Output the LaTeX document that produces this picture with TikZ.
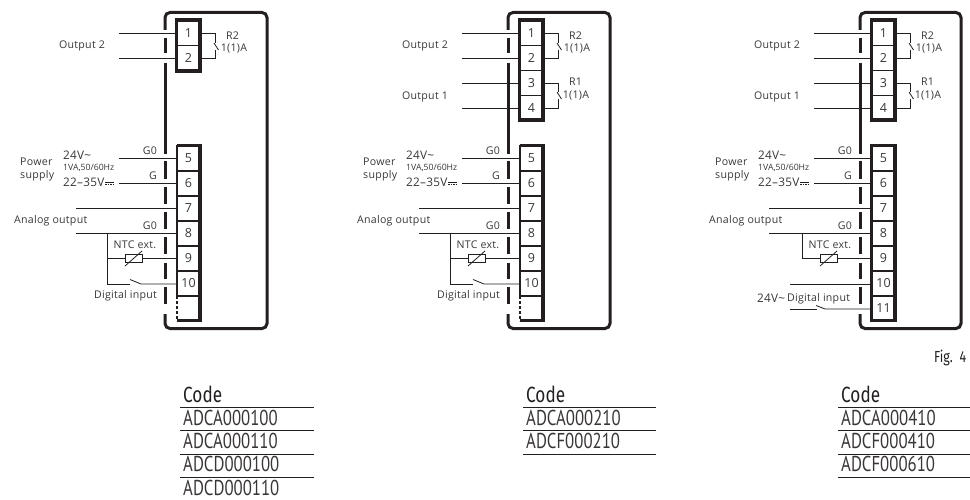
\documentclass[tikz,border=0pt]{standalone}
\usepackage{fontspec}
\setmainfont{Open Sans}
\newfontfamily\condfont[FakeStretch=0.78]{PT Sans}
\newfontfamily\condbold[FakeStretch=0.78]{Fira Sans}
\definecolor{ink}{HTML}{231F20}
\definecolor{txt}{HTML}{3A3637}
\tikzset{
  x=1pt,y=-1pt,
  lbl/.style={inner sep=0pt,text=txt,font=\fontsize{10.6}{12}\selectfont\addfontfeatures{LetterSpace=2.5}},
  lbls/.style={inner sep=0pt,text=txt,font=\fontsize{8.7}{10}\selectfont},
  lblb/.style={inner sep=0pt,text=txt,font=\fontsize{11.8}{13}\selectfont\addfontfeatures{LetterSpace=2}},
  term/.style={draw=ink,line width=1.4pt,minimum width=23pt,minimum height=25pt,inner sep=0pt,outer sep=0pt,text=txt,font=\fontsize{12.5}{14}\selectfont},
  frame/.style={draw=ink,line width=3.2pt},
  wire/.style={draw=ink,line width=.8pt},
  case/.style={draw=ink,line width=3pt},
  coderow/.style={inner sep=0pt,anchor=base west,text=txt,font=\condfont\fontsize{21.5}{23}\selectfont},
  codehead/.style={inner sep=0pt,anchor=base west,text=ink,font=\condbold\fontsize{22}{24}\selectfont},
  rulel/.style={draw=ink,line width=1pt},
}
\newcommand\casebox[1]{%
  \draw[case,rounded corners=5pt] (165,30) -- (165,12.5) -- (#1,12.5) -- (#1,328.5) -- (165,328.5) -- (165,314);
  \draw[case] (165,38) -- (165,53);
  \draw[case] (165,63) -- (165,154);
  \foreach \a/\b in {161/179,187/204,212/229,237/254,263/279,287/304}{\draw[case] (165,\a) -- (165,\b);}
}
\newcommand\lowerpart{%
  \node[term] (t5) at (188.5,158.5) {5};
  \node[term] (t6) at (188.5,183.5) {6};
  \node[term] (t7) at (188.5,208.5) {7};
  \node[term] (t8) at (188.5,233.5) {8};
  \node[term] (t9) at (188.5,258.5) {9};
  \node[term] (t10) at (188.5,283.5) {10};
  \coordinate (w5) at (119,158);
  \coordinate (w6) at (119,183);
  \draw[wire] (w5) -- (t5.west |- w5);
  \draw[wire] (w6) -- (t6.west |- w6);
  \node[lblb,anchor=west] (l24) at (63,155) {24V\char"007E};
  \node[lbls,anchor=west] (lva) at (63,168) {1VA,50/60Hz};
  \node[lblb,anchor=west] (l22) at (63,182.5) {22–35V};
  \draw[ink,line width=.6pt] (105,182) -- (114,182);
  \draw[ink,line width=.6pt,dash pattern=on 1.5pt off 1pt] (105,184) -- (114,184);
  \node[lbl,anchor=west] (lpw) at (20,161.5) {Power};
  \node[lbl,anchor=west] (lsu) at (20,176) {supply};
  \node[lbl] (g0a) at (150,151) {G0};
  \node[lbl] (ga) at (153,175.5) {G};
  \node[lbl] (g0b) at (150,226) {G0};
  \node[lbl,anchor=west] (lana) at (14,220.5) {Analog output};
  \node[lbl] (lntc) at (135,245) {NTC ext.};
}
\newcommand\ntc{%
  \node[draw=ink,line width=.8pt,minimum width=17pt,minimum height=8pt,inner sep=0pt] (ntc) at (133.5,258.5) {};
  \coordinate (j8) at (107,233);
  \coordinate (j9) at (107,258.5);
  \draw[wire] (j9) -- (ntc.west);
  \draw[wire] (ntc.east) -- (t9.west |- ntc.east);
  \draw[wire] (125,266) -- (142,251);
}
\newcommand\lastopen{%
  \draw[draw=ink,line width=1.4pt] (177,296) -- (200,296);
  \draw[draw=ink,line width=1.4pt,dash pattern=on 2.5pt off 2.5pt] (177,296) -- (177,321);
  \draw[frame] (176.5,145.5) -- (200,145.5) -- (200,320.5) -- (176.5,320.5);
  \draw[draw=ink,line width=1.4pt] (177,145.5) -- (177,296);
}
\newcommand\digitalten{%
  \coordinate (j10) at (107,284);
  \coordinate (c10) at (130,284);
  \coordinate (e10) at (130,279.5);
  \coordinate (d10) at (141,284);
  \draw[wire] (j8) -- (j10) -- (c10);
  \draw[wire] (e10) -- (d10) -- (t10.west |- d10);
  \node[lbl] (ldi) at (125.5,295.5) {Digital input};
}
\newcommand\topone{%
  \node[term] (t1) at (188.5,33) {1};
  \node[term] (t2) at (188.5,58) {2};
  \coordinate (w1) at (119,33.5);
  \coordinate (w2) at (119,58.5);
  \draw[wire] (w1) -- (t1.west |- w1);
  \draw[wire] (w2) -- (t2.west |- w2);
  \draw[wire] (t1.east |- w1) -- (215,33.5) -- (215,43);
  \draw[wire] (t2.east |- w2) -- (215,58.5) -- (215,50.5);
  \draw[wire] (214,43) -- (218.5,50);
  \node[lbl] (ou2) at (82,45.5) {Output 2};
  \node[lbl] (r2) at (232.5,35.5) {R2};
  \node[lbl] (r2a) at (234,48.5) {1(1)A};
}
\newcommand\toptwo{%
  \node[term] (t3) at (188.5,83) {3};
  \node[term] (t4) at (188.5,108) {4};
  \draw[frame] (176.5,20) rectangle (200,120);
  \coordinate (w3) at (119,83);
  \coordinate (w4) at (119,108);
  \draw[wire] (w3) -- (t3.west |- w3);
  \draw[wire] (w4) -- (t4.west |- w4);
  \draw[wire] (t3.east |- w3) -- (215,83) -- (215,92);
  \draw[wire] (t4.east |- w4) -- (215,108) -- (215,99.5);
  \draw[wire] (214,92) -- (218.5,99);
  \node[lbl] (ou1) at (82,96.5) {Output 1};
  \node[lbl] (r1) at (232.5,82) {R1};
  \node[lbl] (r1a) at (233,96) {1(1)A};
}
\newcommand\codetable[3]{%
  \node[codehead] (hd) at (#1+3,402) {Code};
  \draw[rulel] (#1,407) -- (#2,407);
  \foreach \c [count=\i from 0] in {#3}{
    \node[coderow] (row\i) at (#1+3,425+\i*23.4) {\c};
  }
}
\begin{document}
\begin{tikzpicture}
\useasboundingbox (0,0) rectangle (970,500);
% ---------- panel A
\begin{scope}[name prefix=a-]
  \casebox{267}
  \topone
  \draw[frame] (176.5,20) rectangle (200,71);
  \lowerpart
  \coordinate (w7) at (76,208);
  \coordinate (w8) at (76,233);
  \draw[wire] (w7) -- (t7.west |- w7);
  \draw[wire] (w8) -- (t8.west |- w8);
  \ntc
  \digitalten
  \lastopen
\end{scope}
% ---------- panel B
\begin{scope}[shift={(343,0)},name prefix=b-]
  \casebox{267}
  \topone
  \toptwo
  \lowerpart
  \coordinate (w7) at (76,208);
  \coordinate (w8) at (76,233);
  \draw[wire] (w7) -- (t7.west |- w7);
  \draw[wire] (w8) -- (t8.west |- w8);
  \ntc
  \digitalten
  \lastopen
\end{scope}
% ---------- panel C
\begin{scope}[shift={(695,0)},name prefix=c-]
  \casebox{266}
  \topone
  \toptwo
  \lowerpart
  \node[term] (t11) at (188.5,308.5) {11};
  \draw[frame] (176.5,145.5) rectangle (200,320.5);
  \coordinate (w7) at (74,208);
  \coordinate (w8) at (74,233);
  \draw[wire] (w7) -- (t7.west |- w7);
  \draw[wire] (w8) -- (t8.west |- w8);
  \ntc
  \draw[wire] (j8) -- (j9);
  \coordinate (w10) at (95,284);
  \draw[wire] (w10) -- (t10.west |- w10);
  \coordinate (w11) at (95,309);
  \coordinate (c11) at (122,309);
  \coordinate (e11) at (121,305.5);
  \coordinate (d11) at (130,309);
  \draw[wire] (w11) -- (c11);
  \draw[wire] (e11) -- (d11) -- (t11.west |- d11);
  \node[lblb,anchor=west] (l24b) at (62,298) {24V\char"007E};
  \node[lbl,anchor=west] (ldi) at (92,298.5) {Digital input};
\end{scope}
% ---------- tables
\node[inner sep=0pt,anchor=base west,text=ink,font=\condbold\fontsize{16}{18}\selectfont] (fig) at (934,362) {Fig.\ \ 4};
\begin{scope}[name prefix=ta-]
  \codetable{180}{314}{ADCA000100,ADCA000110,ADCD000100,ADCD000110}
  \draw[rulel] (180,430.5) -- (314,430.5);
  \draw[rulel] (180,454) -- (314,454);
  \draw[rulel] (180,477.5) -- (314,477.5);
\end{scope}
\begin{scope}[name prefix=tb-]
  \codetable{523}{656}{ADCA000210,ADCF000210}
  \draw[rulel] (523,430.5) -- (656,430.5);
  \draw[rulel] (523,454) -- (656,454);
\end{scope}
\begin{scope}[name prefix=tc-]
  \codetable{838}{970}{ADCA000410,ADCF000410,ADCF000610}
  \draw[rulel] (838,430.5) -- (970,430.5);
  \draw[rulel] (838,454) -- (970,454);
  \draw[rulel] (838,477.5) -- (970,477.5);
\end{scope}
\end{tikzpicture}
\end{document}
